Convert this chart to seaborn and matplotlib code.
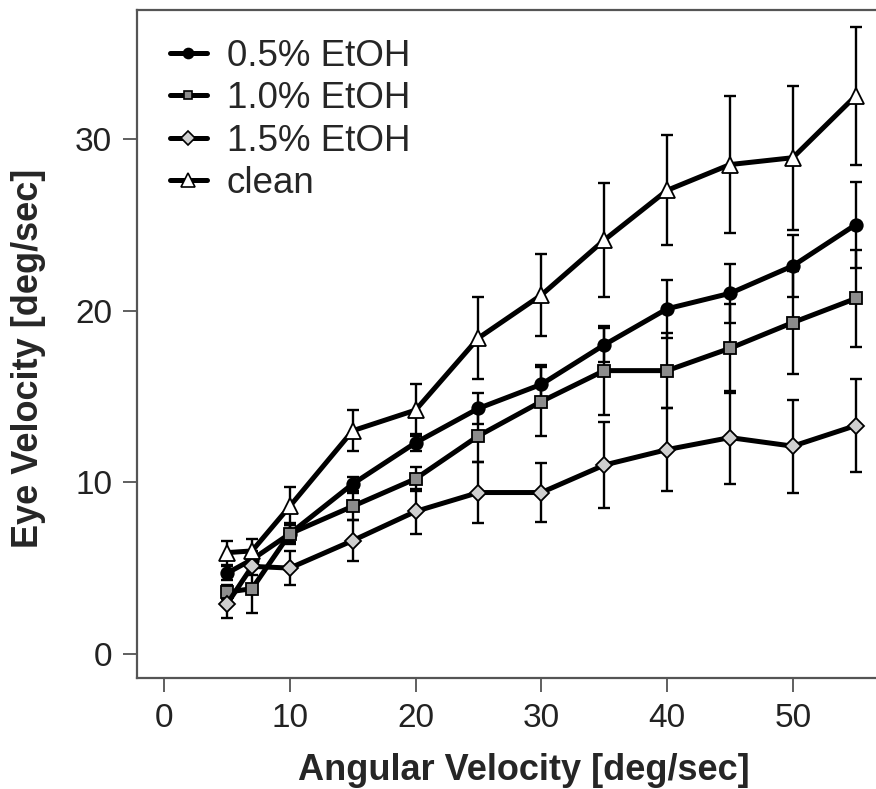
import seaborn as sns
import matplotlib.pyplot as plt
from matplotlib.lines import Line2D
import pandas as pd

# Angular velocity of the stimulus (deg/sec)
angular_velocity = [5, 7, 10, 15, 20, 25, 30, 35, 40, 45, 50, 55]

# Mean eye velocity (deg/sec) per treatment
etoh_05 = [4.7, 5.5, 7.0, 9.9, 12.3, 14.3, 15.7, 18.0, 20.1, 21.0, 22.6, 25.0]
etoh_10 = [3.6, 3.8, 7.0, 8.6, 10.2, 12.7, 14.7, 16.5, 16.5, 17.8, 19.3, 20.7]
etoh_15 = [2.9, 5.1, 5.0, 6.6, 8.3, 9.4, 9.4, 11.0, 11.9, 12.6, 12.1, 13.3]
clean = [5.9, 6.0, 8.6, 13.0, 14.2, 18.4, 20.9, 24.1, 27.0, 28.5, 28.9, 32.5]

# Error bar half-widths
etoh_05_err = [0.4, 0.5, 0.5, 0.4, 0.5, 0.9, 1.1, 1.0, 1.7, 1.7, 1.8, 2.5]
etoh_10_err = [0.4, 1.4, 0.6, 0.8, 0.7, 1.5, 2.0, 2.6, 2.2, 2.6, 3.0, 2.8]
etoh_15_err = [0.8, 0.5, 1.0, 1.2, 1.3, 1.8, 1.7, 2.5, 2.4, 2.7, 2.7, 2.7]
clean_err = [0.7, 0.7, 1.1, 1.2, 1.5, 2.4, 2.4, 3.3, 3.2, 4.0, 4.2, 4.0]

series_names = ["0.5% EtOH", "1.0% EtOH", "1.5% EtOH", "clean"]
series_means = [etoh_05, etoh_10, etoh_15, clean]
series_errs = [etoh_05_err, etoh_10_err, etoh_15_err, clean_err]

markers = {"0.5% EtOH": "o", "1.0% EtOH": "s", "1.5% EtOH": "D", "clean": "^"}
face = {"0.5% EtOH": "black", "1.0% EtOH": "#8c8c8c", "1.5% EtOH": "#cfcfcf", "clean": "white"}
msize = {"0.5% EtOH": 9, "1.0% EtOH": 8, "1.5% EtOH": 8.5, "clean": 12}

rows = []
for name, means, errs in zip(series_names, series_means, series_errs):
    for x, m, e in zip(angular_velocity, means, errs):
        rows.append({"Angular Velocity": x, "Eye Velocity": m, "err": e, "Treatment": name})
df = pd.DataFrame(rows)

sns.set_style("ticks")
plt.rcParams["font.family"] = ["Liberation Sans", "DejaVu Sans"]

fig = plt.figure(figsize=(8.76, 7.89), dpi=100)
# the plot box runs past the right edge of the image, as in the original
ax = fig.add_axes([0.1564, 0.1407, 0.8836, 0.8466])

sns.lineplot(data=df, x="Angular Velocity", y="Eye Velocity", hue="Treatment",
             style="Treatment", hue_order=series_names, style_order=series_names,
             palette={n: "black" for n in series_names}, markers=markers,
             dashes=False, linewidth=3.6, ax=ax, legend=False, zorder=3)

for line, name in zip(list(ax.lines), series_names):
    line.set_markerfacecolor(face[name])
    line.set_markeredgecolor("black")
    line.set_markeredgewidth(1.3)
    line.set_markersize(msize[name])

# error bars beneath the lines
for name in series_names:
    sub = df[df["Treatment"] == name]
    ax.errorbar(sub["Angular Velocity"], sub["Eye Velocity"], yerr=sub["err"],
                fmt="none", ecolor="black", elinewidth=1.7, capsize=4, capthick=1.7,
                zorder=2)

handles = [Line2D([], [], color="black", lw=3.6, marker=markers[n], markersize=msize[n] * 0.8,
                  markerfacecolor=face[n], markeredgecolor="black", markeredgewidth=1.2)
           for n in series_names]
ax.legend(handles, series_names, loc="upper left", frameon=False, fontsize=26.5,
          handlelength=1.0, handletextpad=0.55, labelspacing=0.2,
          bbox_to_anchor=(0.014, 0.99), borderaxespad=0.2)

ax.set_xlim(-2.15, 59.4)
ax.set_ylim(-1.4, 37.5)
ax.set_xticks([0, 10, 20, 30, 40, 50])
ax.set_yticks([0, 10, 20, 30])
ax.tick_params(axis="both", labelsize=24, length=10, width=1.2, color="#444444",
               labelcolor="#222222", pad=8)
for s in ax.spines.values():
    s.set_linewidth(1.6)
    s.set_color("#555555")

ax.set_xlabel("Angular Velocity [deg/sec]", fontsize=26, fontweight="bold")
ax.set_ylabel("Eye Velocity [deg/sec]", fontsize=26, fontweight="bold")
ax.xaxis.set_label_coords(0.5, -0.112)
ax.yaxis.set_label_coords(-0.118, 0.479)

fig.savefig("out.png", dpi=100)
